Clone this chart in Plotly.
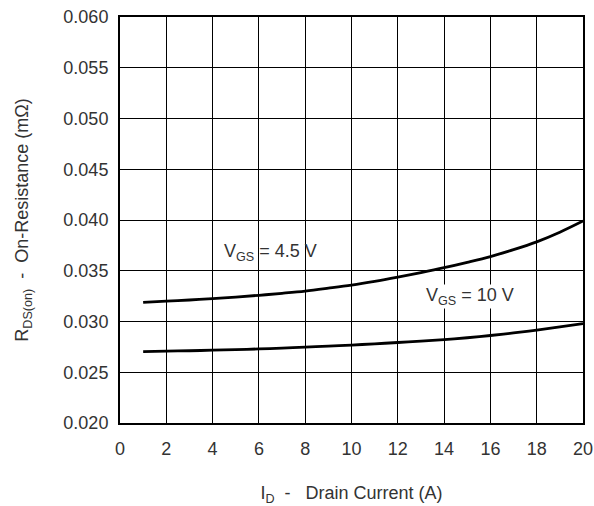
import plotly.graph_objects as go

id_a = list(range(1, 21))
r_45 = [0.03188, 0.03200, 0.03212, 0.03225, 0.03241, 0.03258, 0.03278, 0.03300, 0.03328, 0.03358,
        0.03395, 0.03437, 0.03482, 0.03530, 0.03583, 0.03640, 0.03708, 0.03785, 0.03880, 0.03990]
r_10 = [0.02704, 0.02708, 0.02712, 0.02717, 0.02723, 0.02730, 0.02738, 0.02747, 0.02757, 0.02768,
        0.02780, 0.02793, 0.02807, 0.02822, 0.02840, 0.02862, 0.02887, 0.02915, 0.02946, 0.02980]

x_ticks = list(range(0, 21, 2))
y_ticks = [0.020, 0.025, 0.030, 0.035, 0.040, 0.045, 0.050, 0.055, 0.060]
y_tick_text = ["%.3f" % v for v in y_ticks]

font_family = "Liberation Sans, Arial, sans-serif"
txt_col = "#333333"
fs = 18

fig = go.Figure()
fig.add_trace(go.Scatter(x=id_a, y=r_45, mode="lines", line=dict(color="black", width=2.8, shape="spline", smoothing=1), showlegend=False))
fig.add_trace(go.Scatter(x=id_a, y=r_10, mode="lines", line=dict(color="black", width=2.8, shape="spline", smoothing=1), showlegend=False))

fig.add_annotation(x=6.5, y=0.0368, text="V<sub>GS</sub> = 4.5 V", showarrow=False,
                   font=dict(family=font_family, size=fs, color=txt_col))
fig.add_annotation(x=15.1, y=0.0325, text="V<sub>GS</sub> = 10 V", showarrow=False,
                   font=dict(family=font_family, size=fs, color=txt_col), bgcolor="white", borderpad=0)

fig.update_layout(
    width=594, height=506,
    margin=dict(l=120, r=11, t=17, b=83),
    paper_bgcolor="white", plot_bgcolor="white",
    font=dict(family=font_family, size=fs, color=txt_col),
    xaxis=dict(range=[0, 20], tickvals=x_ticks, showgrid=True, gridcolor="black", gridwidth=1,
               showline=True, linecolor="black", linewidth=2, mirror=True, ticks="", zeroline=False,
               automargin=False, ticklabeloverflow="allow", ticklabelstandoff=8,
               title=dict(text="I<sub>D</sub>  -   Drain Current (A)", standoff=30, font=dict(size=fs))),
    yaxis=dict(range=[0.020, 0.060], tickvals=y_ticks, ticktext=y_tick_text, showgrid=True,
               gridcolor="black", gridwidth=1, showline=True, linecolor="black", linewidth=2,
               mirror=True, ticks="", zeroline=False, automargin=False, ticklabeloverflow="allow",
               ticklabelstandoff=6,
               title=dict(text="R<sub>DS(on)</sub>  -  On-Resistance (mΩ)", standoff=30, font=dict(size=fs))),
)

fig.write_html("out.html", post_script="document.body.style.margin='0';",
               config={"displayModeBar": False})
